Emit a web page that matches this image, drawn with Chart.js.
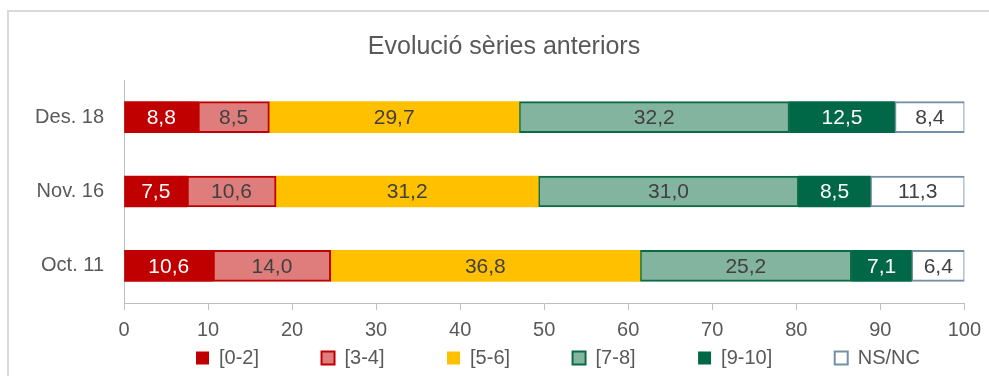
<!DOCTYPE html>
<html>
<head>
<meta charset="utf-8">
<title>Evolució sèries anteriors</title>
<script src="https://cdn.jsdelivr.net/npm/chart.js@4.4.1/dist/chart.umd.min.js"></script>
<style>
  html, body { margin: 0; padding: 0; background: #fff; overflow: hidden; }
  #wrap { position: relative; width: 989px; height: 376px; }
  #frame { position: absolute; left: 7px; top: 10px; width: 1100px; height: 500px;
           border: 2px solid #D9D9D9; box-sizing: border-box; }
  #chart { position: absolute; left: 0; top: 0; }
</style>
</head>
<body>
<div id="wrap">
  <div id="frame"></div>
  <canvas id="chart" width="989" height="376"></canvas>
</div>
<script>
// data
const categories = ['Des. 18', 'Nov. 16', 'Oct. 11'];
const seriesNames = ['[0-2]', '[3-4]', '[5-6]', '[7-8]', '[9-10]', 'NS/NC'];
const values02 = [8.8, 7.5, 10.6];
const values34 = [8.5, 10.6, 14.0];
const values56 = [29.7, 31.2, 36.8];
const values78 = [32.2, 31.0, 25.2];
const values910 = [12.5, 8.5, 7.1];
const valuesNsnc = [8.4, 11.3, 6.4];
const xTicks = [0, 10, 20, 30, 40, 50, 60, 70, 80, 90, 100];

// styles
const fills = ['#C00000', '#DF7D7D', '#FFC000', '#82B4A0', '#006846', '#FFFFFF'];
const borders = ['#C00000', '#C00000', '#FFC000', '#0B6B45', '#006846', '#7590A4'];
const borderWidths = [0, 2, 0, 2, 0, 2];
const labelColors = ['#FFFFFF', '#404040', '#404040', '#404040', '#FFFFFF', '#404040'];

Chart.defaults.font.family = '"Liberation Sans", Arial, sans-serif';
Chart.defaults.color = '#595959';

const seriesValues = [values02, values34, values56, values78, values910, valuesNsnc];

const datasets = seriesNames.map((name, i) => ({
  label: name,
  data: seriesValues[i],
  backgroundColor: fills[i],
  borderColor: borders[i],
  borderWidth: borderWidths[i],
  borderSkipped: false,
  barThickness: 31
}));

// value labels in the middle of every segment
const barLabels = {
  id: 'barLabels',
  afterDatasetsDraw(chart) {
    const ctx = chart.ctx;
    ctx.save();
    ctx.font = '21px "Liberation Sans", Arial, sans-serif';
    ctx.textAlign = 'center';
    ctx.textBaseline = 'middle';
    chart.data.datasets.forEach((ds, i) => {
      const meta = chart.getDatasetMeta(i);
      meta.data.forEach((bar, j) => {
        const p = bar.getProps(['x', 'y', 'base'], true);
        ctx.fillStyle = labelColors[i];
        ctx.fillText(ds.data[j].toFixed(1).replace('.', ','), (p.x + p.base) / 2, p.y + 1);
      });
    });
    ctx.restore();
  }
};

// put title and legend where the reference has them
const placeBlocks = {
  id: 'placeBlocks',
  afterLayout(chart) {
    const t = chart.titleBlock;
    const tw = t.right - t.left;
    t.left = 504 - tw / 2;
    t.right = t.left + tw;

    const lg = chart.legend;
    const pad = lg.options.labels.padding;
    lg.top = 358 - pad - 10;
    lg.bottom = chart.height;
    const w = lg.right - lg.left;
    lg.left = 196 - pad;
    lg.right = lg.left + w;
  }
};

new Chart(document.getElementById('chart'), {
  type: 'bar',
  data: { labels: categories, datasets: datasets },
  plugins: [barLabels, placeBlocks],
  options: {
    indexAxis: 'y',
    responsive: false,
    animation: false,
    layout: { padding: { left: 8, right: 22, top: 0, bottom: 0 } },
    plugins: {
      title: {
        display: true,
        text: 'Evolució sèries anteriors',
        color: '#595959',
        font: { size: 25, weight: 'normal' },
        padding: { top: 32, bottom: 18 }
      },
      legend: {
        position: 'bottom',
        align: 'start',
        maxHeight: 31,
        labels: {
          boxWidth: 13,
          boxHeight: 13,
          padding: 62.5,
          color: '#595959',
          font: { size: 20 }
        }
      },
      tooltip: { enabled: false }
    },
    scales: {
      x: {
        stacked: true,
        min: 0,
        max: 100,
        afterBuildTicks: s => { s.ticks = xTicks.map(v => ({ value: v })); },
        afterFit: s => { s.height = 42; },
        grid: { drawOnChartArea: false, drawTicks: true, tickLength: 7, color: '#BFBFBF' },
        border: { display: true, color: '#BFBFBF', width: 1 },
        ticks: { padding: 8, color: '#595959', font: { size: 20 } }
      },
      y: {
        stacked: true,
        afterFit: s => { s.width = 116; },
        grid: { display: false, drawTicks: false },
        border: { display: true, color: '#BFBFBF', width: 1 },
        ticks: { padding: 20, color: '#595959', font: { size: 20 } }
      }
    }
  }
});
</script>
</body>
</html>
